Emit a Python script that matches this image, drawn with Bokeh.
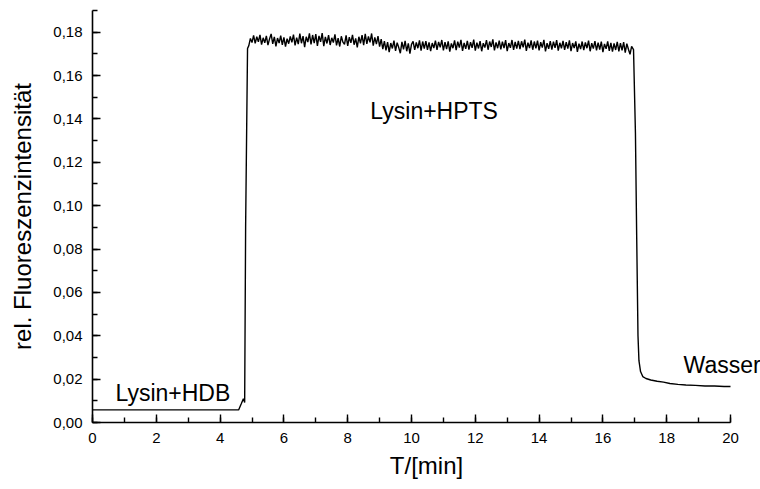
from bokeh.plotting import figure
from bokeh.models import Range1d, SingleIntervalTicker, CustomJSTickFormatter, Label
from bokeh.embed import file_html
from bokeh.resources import INLINE

# --- data ---
rise_t = [0.0, 2.8, 4.58, 4.66, 4.73, 4.77, 4.80, 4.86]
rise_v = [0.0058, 0.0058, 0.0058, 0.0085, 0.0110, 0.0092, 0.0900, 0.1725]

plateau_t0 = 4.90
plateau_dt = 0.05
plateau_v = [
    0.1738, 0.1771, 0.1752, 0.1785, 0.1748, 0.1779, 0.1756, 0.1788, 0.1743, 0.1774,
    0.1751, 0.1783, 0.1740, 0.1769, 0.1792, 0.1746, 0.1778, 0.1735, 0.1773, 0.1750,
    0.1784, 0.1742, 0.1776, 0.1733, 0.1770, 0.1747, 0.1781, 0.1753, 0.1789, 0.1739,
    0.1775, 0.1745, 0.1793, 0.1749, 0.1782, 0.1731, 0.1779, 0.1754, 0.1795, 0.1744,
    0.1787, 0.1750, 0.1791, 0.1737, 0.1783, 0.1755, 0.1796, 0.1736, 0.1778, 0.1748,
    0.1786, 0.1741, 0.1774, 0.1752, 0.1790, 0.1739, 0.1772, 0.1734, 0.1781, 0.1754,
    0.1744, 0.1785, 0.1737, 0.1777, 0.1751, 0.1788, 0.1742, 0.1771, 0.1730, 0.1779,
    0.1749, 0.1786, 0.1740, 0.1792, 0.1746, 0.1780, 0.1753, 0.1794, 0.1738, 0.1776,
    0.1745, 0.1782, 0.1733, 0.1768, 0.1722, 0.1759, 0.1716, 0.1754, 0.1708, 0.1750,
    0.1725, 0.1761, 0.1714, 0.1752, 0.1729, 0.1703, 0.1755, 0.1721, 0.1760, 0.1712,
    0.1748, 0.1701, 0.1744, 0.1758, 0.1718, 0.1753, 0.1726, 0.1762, 0.1715, 0.1757,
    0.1724, 0.1759, 0.1719, 0.1753, 0.1713, 0.1750, 0.1727, 0.1761, 0.1718, 0.1755,
    0.1730, 0.1764, 0.1716, 0.1754, 0.1722, 0.1758, 0.1710, 0.1748, 0.1726, 0.1762,
    0.1717, 0.1756, 0.1729, 0.1765, 0.1714, 0.1751, 0.1723, 0.1760, 0.1720, 0.1754,
    0.1728, 0.1766, 0.1715, 0.1752, 0.1725, 0.1759, 0.1712, 0.1749, 0.1729, 0.1763,
    0.1719, 0.1757, 0.1732, 0.1767, 0.1716, 0.1753, 0.1726, 0.1761, 0.1721, 0.1756,
    0.1727, 0.1763, 0.1713, 0.1750, 0.1728, 0.1764, 0.1718, 0.1755, 0.1724, 0.1760,
    0.1722, 0.1758, 0.1730, 0.1766, 0.1714, 0.1752, 0.1727, 0.1762, 0.1719, 0.1757,
    0.1725, 0.1761, 0.1716, 0.1754, 0.1729, 0.1765, 0.1711, 0.1749, 0.1723, 0.1759,
    0.1720, 0.1756, 0.1728, 0.1763, 0.1715, 0.1751, 0.1726, 0.1760, 0.1718, 0.1754,
    0.1724, 0.1762, 0.1713, 0.1750, 0.1727, 0.1758, 0.1709, 0.1747, 0.1722, 0.1757,
    0.1717, 0.1753, 0.1726, 0.1761, 0.1712, 0.1749, 0.1724, 0.1759, 0.1716, 0.1752,
    0.1720, 0.1756, 0.1708, 0.1746, 0.1723, 0.1758, 0.1714, 0.1751, 0.1710, 0.1748,
    0.1718, 0.1755, 0.1712, 0.1750, 0.1716, 0.1754, 0.1706, 0.1747, 0.1721, 0.1698,
    0.1735,
]

drop_t = [16.96, 17.02, 17.06, 17.10, 17.13, 17.18, 17.25, 17.35, 17.50, 17.70,
          17.90, 18.10, 18.35, 18.60, 18.90, 19.20, 19.50, 19.80, 20.00]
drop_v = [0.1720, 0.1335, 0.0850, 0.0400, 0.0285, 0.0235, 0.0212, 0.0203, 0.0196, 0.0190,
          0.0186, 0.0180, 0.0176, 0.0173, 0.0171, 0.0168, 0.0168, 0.0166, 0.0166]

x_axis_bounds = (0, 20)
y_axis_bounds = (0, 0.19)
x_ticks_interval = 2
y_ticks_interval = 0.02

notes_text = ["Lysin+HDB", "Lysin+HPTS", "Wasser"]
notes_x = [0.72, 8.71, 18.53]
notes_y = [0.0134, 0.1436, 0.0263]

# --- assemble series ---
plateau_t = [plateau_t0 + i * plateau_dt for i in range(len(plateau_v))]
t = rise_t + plateau_t + drop_t
v = rise_v + plateau_v + drop_v

FONT = "Liberation Sans"

# frame runs to the right edge of the page so the "Wasser" note is not clipped;
# the axis itself is bounded to 0..20 as in the original
LEFT, AXIS_RIGHT_PX, W = 92, 730, 760
x_end = x_axis_bounds[1] * (W - LEFT) / (AXIS_RIGHT_PX - LEFT)

p = figure(width=W, height=489, output_backend="svg", toolbar_location=None,
           x_range=Range1d(0, x_end), y_range=Range1d(*y_axis_bounds),
           min_border_left=LEFT, min_border_right=0, min_border_top=10, min_border_bottom=67)
p.outline_line_color = None
p.xgrid.visible = False
p.ygrid.visible = False
p.background_fill_color = "white"
p.border_fill_color = "white"

p.line(t, v, line_color="black", line_width=1.4)

for ax in (p.xaxis[0], p.yaxis[0]):
    ax.axis_line_width = 1.6
    ax.major_tick_line_width = 1.4
    ax.minor_tick_line_width = 1.4
    ax.major_tick_in = 8
    ax.major_tick_out = 0
    ax.minor_tick_in = 5
    ax.minor_tick_out = 0
    ax.major_label_text_font = FONT
    ax.major_label_text_font_size = "15px"
    ax.major_label_text_color = "black"
    ax.axis_label_text_font = FONT
    ax.axis_label_text_font_style = "normal"
    ax.axis_label_text_color = "black"

p.xaxis[0].bounds = x_axis_bounds
p.yaxis[0].bounds = y_axis_bounds
p.xaxis[0].ticker = SingleIntervalTicker(interval=x_ticks_interval, num_minor_ticks=2)
p.yaxis[0].ticker = SingleIntervalTicker(interval=y_ticks_interval, num_minor_ticks=2)
p.yaxis[0].formatter = CustomJSTickFormatter(code="return tick.toFixed(2).replace('.', ',');")
p.xaxis[0].formatter = CustomJSTickFormatter(code="return tick.toFixed(0);")

p.xaxis[0].axis_label = "T/[min]"
p.yaxis[0].axis_label = "rel. Fluoreszenzintensität"
p.xaxis[0].axis_label_text_font_size = "24px"
p.yaxis[0].axis_label_text_font_size = "24px"
p.xaxis[0].major_label_standoff = 10
p.yaxis[0].major_label_standoff = 10
p.xaxis[0].axis_label_standoff = 6
p.yaxis[0].axis_label_standoff = 14

for txt, nx, ny in zip(notes_text, notes_x, notes_y):
    p.add_layout(Label(x=nx, y=ny, text=txt, text_font=FONT, text_font_size="23px",
                       text_color="black", text_baseline="alphabetic", text_align="left"))

open("out.html", "w").write(file_html(p, INLINE))
